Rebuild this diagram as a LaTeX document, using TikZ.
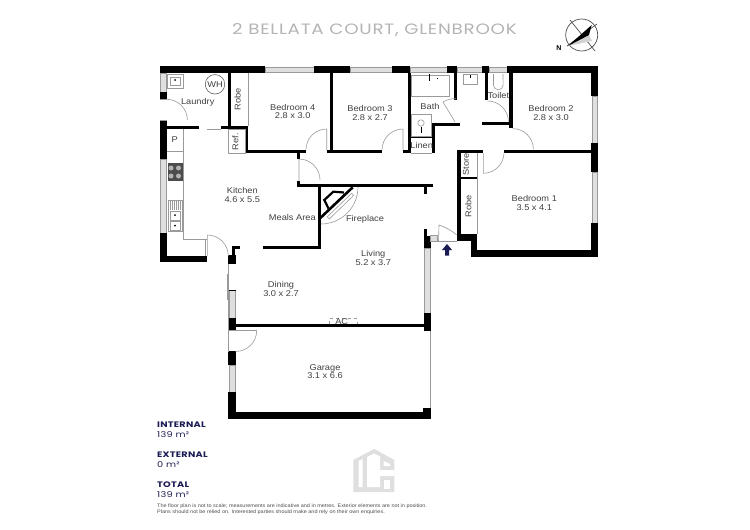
\documentclass[tikz,border=0pt]{standalone}
\usepackage{xcolor}
\usepackage{fontspec}
\setmainfont{Liberation Sans}
\newfontfamily\roomfont[FakeStretch=1.1]{Liberation Sans}
\newfontfamily\headfont[LetterSpace=5,FakeStretch=1.22]{Poppins}
\newfontfamily\statfont[LetterSpace=3,FakeStretch=1.22]{Poppins}
\definecolor{navy}{HTML}{1C1C54}
\definecolor{titlegray}{HTML}{B4B4B4}
\definecolor{fixture}{HTML}{9A9A9A}
\tikzstyle{wall}=[fill=black]
\tikzstyle{glass}=[draw=fixture, fill=gray!25, line width=0.5pt]
\tikzstyle{fine}=[draw=fixture, line width=0.6pt]
\tikzstyle{room}=[text=black!75, align=center, inner sep=0pt,
  font=\roomfont\fontsize{8.4}{8.8}\selectfont]
\tikzstyle{stathead}=[text=navy, anchor=west, inner sep=0pt,
  font=\statfont\bfseries\fontsize{8}{9}\selectfont]
\tikzstyle{statval}=[text=navy, anchor=west, inner sep=0pt,
  font=\statfont\fontsize{8}{9}\selectfont]

\begin{document}
\begin{tikzpicture}[x=1pt, y=-1pt]
  \useasboundingbox (0,0) rectangle (750,530);

  \node(title)[text=titlegray, inner sep=0pt,
    font=\headfont\fontsize{15}{16}\selectfont] at (374.5,30.5)
    {2 BELLATA COURT, GLENBROOK};

  % compass
  \node(north)[inner sep=0pt, font=\bfseries\fontsize{7}{8}\selectfont] at (559,48) {N};
  \draw[black!70, line width=0.7pt] (581.7,35) circle (16);
  \draw[black!70, line width=0.7pt] (570,20) -- (595,51);
  \draw[black!70, line width=0.7pt] (567,46) -- (597,24);
  \fill[gray!35] (568,46) -- (589,35) -- (592,41) -- cycle;
  \fill[black] (568,46) -- (591.7,25) -- (589,35) -- cycle;

  % windows
  \path[glass] (160,73) rectangle (166,92);
  \path[glass] (160,159) rectangle (166,233);
  \path[glass] (265,67) rectangle (314,72);
  \path[glass] (350,67) rectangle (392,72);
  \path[glass] (410,67) rectangle (447,72);
  \path[glass] (457,67) rectangle (482,72);
  \path[glass] (489,67) rectangle (507,72);
  \path[glass] (592,96) rectangle (597,143);
  \path[glass] (592,172) rectangle (597,223);
  \path[glass] (424.5,248) rectangle (430.5,313);
  \path[glass] (229.5,290) rectangle (235.5,318);
  \path[glass] (229.5,365) rectangle (235,392);

  % outer walls
  \fill[wall] (160,66) rectangle (265,73);
  \fill[wall] (314,66) rectangle (350,73);
  \fill[wall] (392,66) rectangle (410,73);
  \fill[wall] (447,66) rectangle (457,73);
  \fill[wall] (482,66) rectangle (489,73);
  \fill[wall] (507,66) rectangle (598,73);
  \fill[wall] (591,66) rectangle (598,96);
  \fill[wall] (591,143) rectangle (598,172);
  \fill[wall] (591,223) rectangle (598,257);
  \fill[wall] (471,250) rectangle (598,257);
  \fill[wall] (471,234) rectangle (477,257);
  \fill[wall] (457,234) rectangle (477,241);
  \fill[wall] (160,92) rectangle (167,99);
  \fill[wall] (160,121) rectangle (167,159);
  \fill[wall] (160,233) rectangle (167,262);
  \fill[wall] (160,256) rectangle (207,262);
  \fill[wall] (228,255) rectangle (236,264);
  \fill[wall] (232,246) rectangle (235,258);
  \fill[wall] (232,246) rectangle (239.5,249);
  \fill[wall] (424,229) rectangle (427,248);
  \fill[wall] (424,236) rectangle (431,248);
  \fill[wall] (424,313) rectangle (431,331);
  \fill[wall] (229,289.5) rectangle (236,291);
  \fill[wall] (228,318) rectangle (236,331);
  \fill[wall] (228,351) rectangle (236,365);
  \fill[wall] (228,392) rectangle (236,419);
  \fill[wall] (228,412) rectangle (431,419);
  \fill[wall] (423,408) rectangle (431,419);

  % inner walls
  \fill[wall] (167,126) rectangle (199,129);
  \fill[wall] (221,126) rectangle (248,129);
  \fill[wall] (228,73) rectangle (231,126);
  \fill[wall] (245,126) rectangle (248,153);
  \fill[wall] (245,150) rectangle (306,153);
  \fill[wall] (297,153) rectangle (300,159);
  \fill[wall] (330,73) rectangle (333,151);
  \fill[wall] (327,150) rectangle (382,153);
  \fill[wall] (403,150) rectangle (411,153);
  \fill[wall] (408,73) rectangle (411,153);
  \fill[wall] (454,73) rectangle (457,100);
  \fill[wall] (433,123) rectangle (460,126);
  \fill[wall] (432,123) rectangle (435,153);
  \fill[wall] (411,136) rectangle (432,138);
  \fill[wall] (485,73) rectangle (488,100);
  \fill[wall] (482,122) rectangle (510,125);
  \fill[wall] (509,73) rectangle (513,128);
  \fill[wall] (504,150) rectangle (591,153);
  \fill[wall] (457,150) rectangle (483,153);
  \fill[wall] (457,150) rectangle (461,241);
  \fill[wall] (461,177) rectangle (477,179);
  \fill[wall] (297,181) rectangle (300,187);
  \fill[wall] (297,184) rectangle (433,187);
  \fill[wall] (424,187) rectangle (427,194);
  \fill[wall] (318,186) rectangle (321,249);
  \fill[wall] (263,246) rectangle (321,249);
  \fill[wall] (229,324) rectangle (431,327);

  % fireplace
  \draw[line width=2.6pt] (320,218.3) -- (352.7,187.3);
  \draw[line width=2.2pt] (328.5,208.5) -- (324.3,200) -- (333.3,191.7) -- (344,192.5);
  \draw[fine] (327.3,216.7) -- (351.7,193.3) -- (353.5,195.5) -- (329.3,219) -- cycle;
  \draw[fine] (321,224) arc (90:0:37);

  % doors
  \draw[fine] (166.7,99.3) arc (-90:0:20.7);
  \draw[fine] (160,99.3) -- (166.7,99.3) (160,120.7) -- (166.7,120.7);
  \draw[fine] (207,129) -- (221,129);
  \draw[fine] (326.7,129) -- (326.7,150) (326.7,129) arc (-90:-180:20.7);
  \draw[fine] (299,159) -- (299,181) (299,159) arc (-90:0:21);
  \draw[fine] (403,129) -- (403,150) (403,129) arc (-90:-180:21);
  \draw[fine] (455,122) -- (443,102) arc (-121:-87:23.3);
  \draw[fine] (487.7,101) arc (-90:0:20.7);
  \draw[fine] (512.7,128.6) arc (-90:0:20.7);
  \draw[fine] (483.3,153) -- (483.3,173.3) arc (90:0:20.7);
  \draw[fine] (207.3,235) -- (207.3,256) (207.3,235) arc (-90:0:21);
  \draw[fine] (205.5,239) -- (205.5,256);
  \draw[fine] (235.7,351.5) arc (90:0:21);
  \draw[fine] (228,330.7) -- (256.7,330.7);
  \draw[fine] (228,330.7) -- (228,351.5);
  \draw[fine] (438.5,241) -- (439,225) to[bend left=10] (456.7,235);
  \draw[fine] (430.7,241) -- (456.7,241);
  \draw[fine] (227.5,274) -- (227.5,300);
  \draw[fine] (228,264) -- (228,330);
  \draw[fine] (430.5,331) -- (430.5,408);
  \draw[fine, fill=gray!25] (430.7,235) rectangle (437.3,241);

  % kitchen bench, laundry and built in
  \draw[fine] (183,129) -- (183,239) -- (207,239);
  \draw[fine] (167,151) -- (183,151);
  \fill[black!70] (167.5,163.3) rectangle (183,180.7);
  \foreach \cx/\cy in {171/168, 178.5/168, 171/176, 178.5/176}
    \fill[gray!60] (\cx,\cy) circle (2.5);
  \draw[fine] (168,200) rectangle (182,231);
  \draw[fine] (170,211) rectangle (180,220) (170,221) rectangle (180,230);
  \foreach \cx in {170,172,174,176,178,180}
    \draw[fine, line width=0.4pt] (\cx,201) -- (\cx,210);
  \fill[black] (175,215) circle (1) (175,225.5) circle (1);
  \draw[fine] (167,74) rectangle (183,88);
  \draw[fine] (170,77) rectangle (180,85);
  \fill[black] (175,80) circle (1);
  \draw[fine] (248,73) -- (248,126);
  \draw[fine] (228,129) rectangle (245,153);

  % bath and toilet fixtures
  \draw[fine] (411.7,75) rectangle (449.3,96);
  \draw[line width=0.8pt] (429,73.5) -- (429,81) (437,78) -- (437,79);
  \draw[fine] (411.7,114) rectangle (431.7,136);
  \draw[fine] (421,123) circle (3.2);
  \draw[line width=0.8pt] (421,127) -- (421,133);
  \draw[fine] (411,153) -- (432,153);
  \draw[fine] (463,74) rectangle (477,84);
  \fill[black] (470,75) rectangle (471,78);
  \draw[fine] (493.5,74) -- (493.5,85) arc (180:0:4.8) -- (503,74);
  \draw[fine] (477,153) -- (477,234);

  % entry arrow
  \fill[navy] (447,244) -- (452,250) -- (449,250) -- (449,255.7)
    -- (445,255.7) -- (445,250) -- (442,250) -- cycle;

  % room labels
  \node(bedfour)[room] at (292.7,111.5) {Bedroom 4\\2.8 x 3.0};
  \node(bedthree)[room] at (370,113) {Bedroom 3\\2.8 x 2.7};
  \node(bedtwo)[room] at (551,113.3) {Bedroom 2\\2.8 x 3.0};
  \node(bedone)[room] at (534.3,203.3) {Bedroom 1\\3.5 x 4.1};
  \node(bath)[room] at (430,106.7) {Bath};
  \node(linen)[room] at (421.7,145.3) {Linen};
  \node(toilet)[room] at (498.3,95.7) {Toilet};
  \node(store)[room, rotate=90] at (466,164.3) {Store};
  \node(roberight)[room, rotate=90] at (468.3,206) {Robe};
  \node(robeleft)[room, rotate=90] at (237.7,99.3) {Robe};
  \node(ref)[room, rotate=90] at (235.3,141.7) {Ref.};
  \node(laundry)[room] at (197.7,102) {Laundry};
  \node(wh)[room, draw=black!70, circle, minimum size=19.5pt, line width=0.5pt] at (215,84.3) {WH};
  \node(pantry)[room] at (174.7,139.3) {P};
  \node(kitchen)[room] at (242.3,195) {Kitchen\\4.6 x 5.5};
  \node(meals)[room] at (292.3,217.7) {Meals Area};
  \node(dining)[room] at (281,289) {Dining\\3.0 x 2.7};
  \node(fireplace)[room] at (365,219.3) {Fireplace};
  \node(living)[room] at (373.3,258.3) {Living\\5.2 x 3.7};
  \draw[fine, dashed, line width=0.4pt] (329.5,324) -- (329.5,318.5) -- (357,318.5) -- (357,324);
  \node(ac)[room] at (341.7,321.2) {AC};
  \node(garage)[room] at (325,371.7) {Garage\\3.1 x 6.6};

  % area figures
  \node(inthead)[stathead] at (157,424.7) {INTERNAL};
  \node(intval)[statval] at (157,434.7) {139 m²};
  \node(exthead)[stathead] at (157,454.7) {EXTERNAL};
  \node(extval)[statval] at (157,464.7) {0 m²};
  \node(tothead)[stathead] at (157,484.7) {TOTAL};
  \node(totval)[statval] at (157,494.7) {139 m²};
  \node(notice)[anchor=west, align=left, inner sep=0pt, text=black!70,
    font=\roomfont\fontsize{5}{5.6}\selectfont] at (157,509.4)
    {The floor plan is not to scale; measurements are indicative and in metres. Exterior elements are not in position.\\
     Plans should not be relied on. Interested parties should make and rely on their own enquiries.};

  % logo
  \fill[gray!25] (353.3,460) -- (374.3,449) -- (394.3,460) -- (394.3,492) -- (353.3,492) -- cycle;
  \fill[white] (358.5,461) -- (362.5,459) -- (362.5,487) -- (358.5,487) -- cycle;
  \fill[white] (367,457) -- (374.3,453.5) -- (380,456.5) -- (380,470) -- (394.6,470) -- (394.6,476)
    -- (380,476) -- (380,487) -- (367,487) -- cycle;
  \fill[white] (383.5,461) -- (390,464) -- (390,466) -- (383.5,466) -- cycle;
  \fill[white] (383.5,480) rectangle (390,489);
\end{tikzpicture}
\end{document}
